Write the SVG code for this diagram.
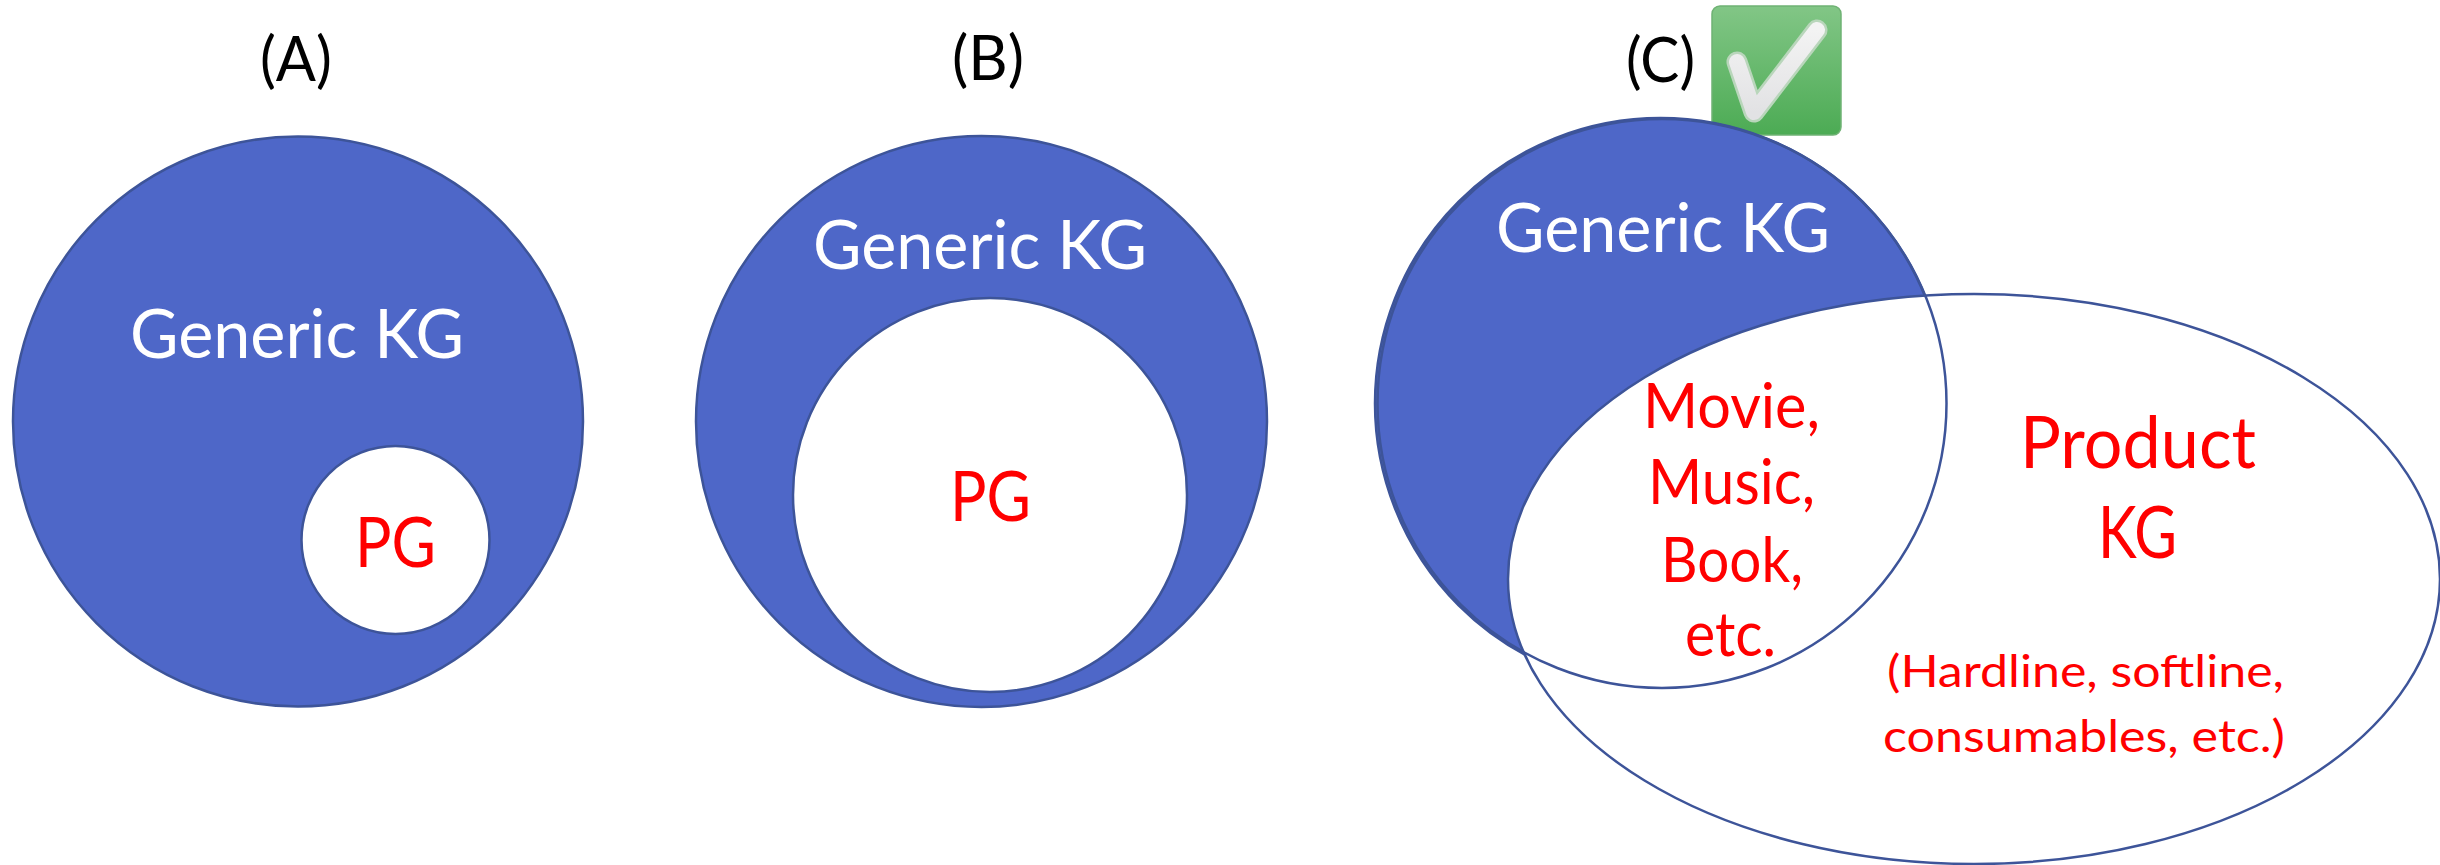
<svg xmlns="http://www.w3.org/2000/svg" width="2440" height="865" viewBox="0 0 2440 865">
<style>
text{font-family:"Lato","Carlito","Open Sans",sans-serif;}
.blue{fill:#4e67c8;stroke:#3d5499;stroke-width:2.5}
.hole{fill:#fff;stroke:#3d5499;stroke-width:2.5}
.line{fill:none;stroke:#3d5499;stroke-width:2.5}
.title{fill:#000;font-size:62px}
.gen{fill:#fff;font-size:68px}
.red{fill:#f00}
.pg{font-size:70px}
.m{font-size:62px}
.l{font-size:72px}
.s{font-size:45px}
</style>
<defs>
<linearGradient id="chk" x1="0" y1="0" x2="0" y2="1"><stop offset="0" stop-color="#82c686"/><stop offset="1" stop-color="#4cab54"/></linearGradient>
<linearGradient id="tick" x1="0" y1="0" x2="0" y2="1"><stop offset="0" stop-color="#f3f3f3"/><stop offset="1" stop-color="#e2e2e4"/></linearGradient>
</defs>
<rect width="2440" height="865" fill="#fff"/>
<g id="check">
<rect x="1712" y="6" width="129" height="129" rx="8" fill="url(#chk)" stroke="#6fb274" stroke-width="1.5"/>
<polyline points="1737,62 1754,112 1817,30" fill="none" stroke="#b9d6bb" stroke-width="21" stroke-linecap="round" stroke-linejoin="round"/>
<polyline points="1737,62 1754,112 1817,30" fill="none" stroke="url(#tick)" stroke-width="16" stroke-linecap="round" stroke-linejoin="round"/>
</g>
<g id="diagram-a">
<circle class="blue" cx="298" cy="421.500" r="285"/>
<circle class="hole" cx="395.500" cy="540" r="94"/>
<text class="title" x="260" y="81" textLength="72" lengthAdjust="spacingAndGlyphs">(A)</text>
<text class="gen" x="130" y="358" textLength="334" lengthAdjust="spacingAndGlyphs">Generic KG</text>
<text class="red pg" x="355" y="567" textLength="81" lengthAdjust="spacingAndGlyphs">PG</text>
</g>
<g id="diagram-b">
<circle class="blue" cx="981.500" cy="421.500" r="285.500"/>
<circle class="hole" cx="990" cy="495" r="197"/>
<text class="title" x="952" y="80" textLength="72" lengthAdjust="spacingAndGlyphs">(B)</text>
<text class="gen" x="813" y="269" textLength="334" lengthAdjust="spacingAndGlyphs">Generic KG</text>
<text class="red pg" x="950" y="521" textLength="81" lengthAdjust="spacingAndGlyphs">PG</text>
</g>
<g id="diagram-c">
<circle class="blue" cx="1660.500" cy="403.500" r="285.500"/>
<g id="product-kg">
<ellipse class="hole" cx="1974" cy="579" rx="466" ry="285"/>
</g>
<circle class="line" cx="1662" cy="403.500" r="284.500"/>
<text class="title" x="1626" y="82" textLength="69" lengthAdjust="spacingAndGlyphs">(C)</text>
<text class="gen" x="1496" y="252" textLength="334" lengthAdjust="spacingAndGlyphs">Generic KG</text>
<text class="red m" x="1643" y="428" textLength="177" lengthAdjust="spacingAndGlyphs">Movie,</text>
<text class="red m" x="1648" y="504" textLength="167" lengthAdjust="spacingAndGlyphs">Music,</text>
<text class="red m" x="1661" y="582" textLength="142" lengthAdjust="spacingAndGlyphs">Book,</text>
<text class="red m" x="1685" y="656" textLength="91" lengthAdjust="spacingAndGlyphs">etc.</text>
<text class="red l" x="2020" y="468" textLength="236" lengthAdjust="spacingAndGlyphs">Product</text>
<text class="red l" x="2098" y="558" textLength="79" lengthAdjust="spacingAndGlyphs">KG</text>
<text class="red s" x="1887" y="687" textLength="397" lengthAdjust="spacingAndGlyphs">(Hardline, softline,</text>
<text class="red s" x="1883" y="752" textLength="402" lengthAdjust="spacingAndGlyphs">consumables, etc.)</text>
</g>
</svg>
